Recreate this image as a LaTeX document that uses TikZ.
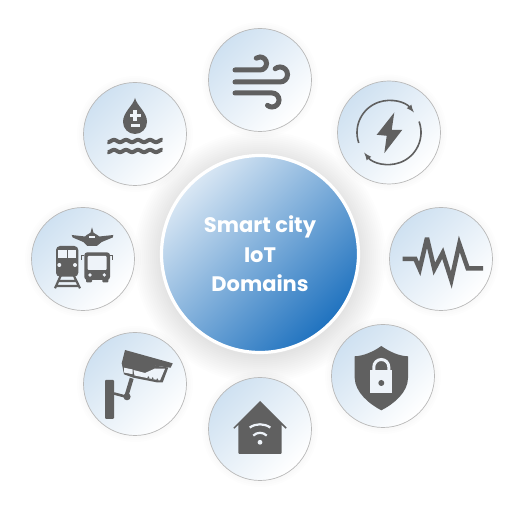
\documentclass[tikz,border=0pt]{standalone}
\usepackage{fontspec}
\setmainfont{Poppins}
\usepackage{tikz}
\usetikzlibrary{arrows}

\definecolor{icongray}{HTML}{606060}
\definecolor{ringgray}{HTML}{B9B9B9}
\definecolor{domlight}{HTML}{CFE1F1}
\definecolor{hublight}{HTML}{D9E7F4}
\definecolor{hubblue}{HTML}{1F72BF}
\definecolor{pale}{HTML}{EEF3F9}

\begin{document}
\begin{tikzpicture}
		[x=1pt,y=1pt,
		dom/.style= {circle,minimum size=103pt,inner sep=0pt,draw=ringgray,line width=0.7pt,left color=domlight,right color=white,shading angle=45},
		hub/.style= {circle,minimum size=197pt,inner sep=0pt,draw=white,line width=3.2pt,left color=hublight,right color=hubblue,shading angle=45,text=white,align=center,font=\fontsize{21}{29.5}\selectfont\bfseries},
		ico/.style= {draw=icongray,line width=5pt,line cap=round},
		fil/.style= {fill=icongray,draw=none},
		wht/.style= {fill=pale,draw=none}]

		\useasboundingbox (0,0) rectangle (516,505);

		% soft shadows first
		\foreach \sx/\sy in {260/425,389/372.5,441/246,383/129,260/76,135/121,83/246,135/371} {
			\foreach \sr in {52,54,...,58}
				\fill[black,opacity=0.008] (\sx,\sy) circle (\sr);
		}
		\foreach \sr in {100,102,...,126}
			\fill[black,opacity=0.009] (260,248) circle (\sr);

		\node[hub] (center) at (260,251) {Smart city\\IoT\\Domains};

		\node[dom] (wind) at (260,425) {};
		\node[dom] (power) at (389,372.5) {};
		\node[dom] (noise) at (441,246) {};
		\node[dom] (secure) at (383,129) {};
		\node[dom] (home) at (260,76) {};
		\node[dom] (camera) at (135,121) {};
		\node[dom] (transport) at (83,246) {};
		\node[dom] (water) at (135,371) {};

		% wind
		\begin{scope}[shift={(wind)}]
			\draw[ico] (-25,10) -- (0,10) arc (-90:125:6.5);
			\draw[ico] (-25,-2) -- (20,-2) arc (-90:130:7.5);
			\draw[ico] (-25,-13) -- (12,-13) arc (90:-130:7);
		\end{scope}

		% power
		\begin{scope}[shift={(power)}]
			\draw[draw=icongray,line width=1.6pt,-latex] (199:32) arc (199:39:32);
			\draw[draw=icongray,line width=1.6pt,-latex] (20:32) arc (20:-141:32);
			\fill[fil] (5.3,20) -- (-12.3,-2.3) -- (-2.3,-3.3) -- (-4.7,-20.7) -- (13.3,2.7) -- (2.7,2.7) -- cycle;
		\end{scope}

		% water
		\begin{scope}[shift={(water)}]
			\fill[fil] (0,36) .. controls (2,28) and (12,22) .. (12,12) arc (0:-180:12) .. controls (-12,22) and (-2,28) .. (0,36) -- cycle;
			\fill[wht] (-5.5,16.5) rectangle (5.5,20);
			\fill[wht] (-1.8,12.5) rectangle (1.8,24);
			\fill[wht] (-4.5,6.5) rectangle (4.5,9.5);
			\foreach \wy in {-7,-17}
				\draw[draw=icongray,line width=4pt,domain=-27.5:27.5,samples=80] plot (\x,{\wy+1.1*sin(\x*30)});
		\end{scope}

		% transport
		\begin{scope}[shift={(transport)}]
			\fill[fil] (9,31.7) -- (10.5,26.3) -- (14.3,24) -- (16.3,22.5) -- (30.3,24) -- (29.7,21.5) -- (18.7,17) -- (13.7,13) -- (4.3,13) -- (0.3,17) -- (-10.3,21.5) -- (-11.3,24) -- (2,22.5) -- (3.7,24) -- (7.5,26.3) -- cycle;
			\fill[wht] (6,21) rectangle (12,22.5);
			\fill[fil,rounded corners=4pt] (-27,13) rectangle (-4.7,-17.7);
			\fill[wht] (-24.7,9) rectangle (-16.3,0.7);
			\fill[wht] (-14.7,9) rectangle (-6.7,0.7);
			\fill[wht] (-23.7,-6) circle (2);
			\fill[wht] (-8,-6) circle (2);
			\draw[draw=icongray,line width=2.2pt] (-22,-16) -- (-28,-29.3) (-9.5,-16) -- (-3,-29.3) (-25,-22) -- (-6,-22) (-27,-27) -- (-4,-27);
			\fill[fil,rounded corners=3pt] (1.3,6.7) rectangle (27,-21);
			\fill[fil,rounded corners=1pt] (3,-18) rectangle (9,-23.5);
			\fill[fil,rounded corners=1pt] (19.3,-18) rectangle (25.3,-23.5);
			\fill[wht,rounded corners=1pt] (4.7,3) rectangle (23.7,-11);
			\fill[wht] (7,-16) circle (1.8);
			\fill[wht] (21.3,-16) circle (1.8);
			\draw[draw=icongray,line width=1.3pt] (1.3,3.5) -- (-1.2,3.5) -- (-1.2,-1) (27,3.5) -- (29.7,3.5) -- (29.7,-1);
		\end{scope}

		% camera
		\begin{scope}[shift={(camera)}]
			\fill[fil,rounded corners=1pt] (-30,4) rectangle (-21,-35);
			\draw[draw=icongray,line width=2.6pt] (-21,-9.5) -- (-9,-12.7);
			\draw[draw=icongray,line width=4pt] (-8.3,-11) -- (-3.3,5.7);
			\fill[fil] (-8,-12.7) circle (3.6);
			\fill[fil] (-10,34) -- (37.7,20.7) -- (35.7,16.3) -- (20,18.3) -- (10,14) -- (-13.3,20.7) -- cycle;
			\fill[fil] (-13.3,21) -- (-11,9.7) -- (-1.7,6.3) -- (21.7,1.7) -- (27.7,1.7) -- (33.3,16.5) -- (20,18.3) -- cycle;
			\fill[wht] (-11,16.3) -- (-2.3,14.5) -- (-2.3,9.8) -- (-11,11.5) -- cycle;
			\fill[wht] (-1.5,14) -- (10,11) -- (20,15.5) -- (30,15.3) -- (25,3.5) -- (-0.5,8.5) -- cycle;
			\foreach \dx/\dy in {13.3/6.7,17.7/5.7,22.3/4.6} \fill[fil] (\dx,\dy) circle (1);
		\end{scope}

		% home
		\begin{scope}[shift={(home)}]
			\fill[fil,rounded corners=1pt] (-21.7,5) rectangle (21.7,-25);
			\fill[fil] (0,28) -- (26.7,1.3) -- (25.7,0.3) -- (21.7,4) -- (-21.7,4) -- (-25.7,0.3) -- (-26.7,1.3) -- cycle;
			\fill[wht] (0,-13.3) circle (2.4);
			\draw[draw=pale,line width=2.2pt] (0,-13.3) ++(45:9.5) arc (45:135:9.5);
			\draw[draw=pale,line width=2.2pt] (0,-13.3) ++(55:18) arc (55:125:18);
		\end{scope}

		% secure
		\begin{scope}[shift={(secure)}]
			\fill[fil] (-1.7,30) .. controls (-10,24) and (-20,20) .. (-28.3,19.7) -- (-28.3,-2) .. controls (-28,-16) and (-14,-28) .. (-1.7,-34.3) .. controls (11,-28) and (25,-16) .. (25,-2) -- (25,19.7) .. controls (16,20) and (7,24) .. (-1.7,30) -- cycle;
			\fill[wht] (-12.7,5.7) rectangle (9.3,-17);
			\draw[draw=pale,line width=3pt] (-9.2,5.7) -- (-9.2,9) arc (180:0:7.5) -- (5.8,5.7);
			\fill[fil] (-1.7,-7) circle (3);
		\end{scope}

		% noise
		\begin{scope}[shift={(noise)}]
			\draw[draw=icongray,line width=4.5pt,miter limit=4] (-38.3,0) -- (-25.7,0) -- (-21.3,-10) -- (-14,21) -- (-6.7,-10) -- (1.7,6) -- (10.3,-21) -- (18.3,15) -- (26.7,-9.3) -- (42,-9.3);
		\end{scope}

\end{tikzpicture}
\end{document}
